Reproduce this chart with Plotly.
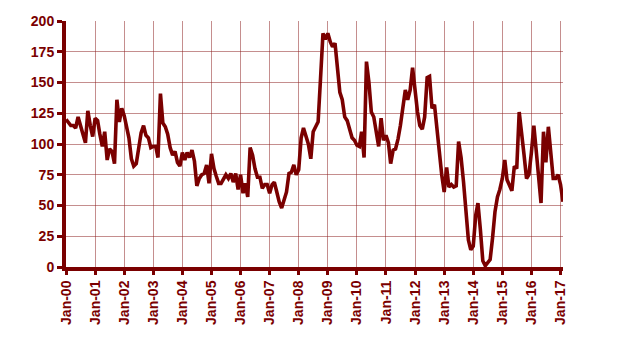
import plotly.graph_objects as go
import pandas as pd

start_month = "2000-01-01"
values = [
    120, 117, 115, 115, 113, 122, 116, 108, 101, 127, 115, 106,
    121, 119, 108, 98, 110, 87, 96, 94, 84, 136, 118, 129,
    123, 114, 105, 88, 82, 84, 98, 109, 115, 107, 105, 97,
    98, 98, 89, 141, 117, 114, 108, 97, 91, 94, 85, 82,
    93, 87, 93, 89, 95, 86, 66, 72, 75, 76, 83, 68,
    92, 80, 74, 68, 68, 71, 75, 72, 76, 69, 76, 63,
    75, 60, 68, 57, 97, 91, 80, 73, 73, 64, 67, 67,
    60, 67, 69, 61, 53, 48, 54, 61, 76, 77, 83, 75,
    79, 105, 113, 105, 100, 88, 110, 114, 118, 153, 190, 185,
    190, 183, 179, 182, 164, 142, 136, 122, 119, 111, 105, 103,
    99, 98, 110, 89, 167, 150, 126, 122, 111, 98, 121, 103,
    107, 101, 84, 95, 96, 104, 115, 130, 144, 136, 144, 162,
    142, 126, 115, 112, 122, 154, 155, 129, 132, 111, 91, 75,
    61, 81, 65, 67, 65, 66, 102, 89, 69, 48, 22, 14,
    17, 42, 52, 30, 5, 1, 3, 6, 24, 45, 57, 63,
    72, 87, 71, 66, 62, 82, 80, 126, 111, 91, 72, 75,
    93, 115, 95, 74, 52, 110, 85, 114, 95, 72, 72, 75,
    67, 53,
]
dates = pd.date_range(start_month, periods=len(values), freq="MS")
y_ticks = [0, 25, 50, 75, 100, 125, 150, 175, 200]

dark = "#7a0000"
grid = "rgba(140,30,30,0.5)"

fig = go.Figure()
fig.add_trace(go.Scatter(
    x=dates, y=values, mode="lines",
    line=dict(color=dark, width=3.6),
    hoverinfo="skip",
))

font = dict(family="Liberation Sans, Arial, sans-serif", size=14, color=dark)

fig.update_layout(
    width=620, height=358,
    margin=dict(l=66, r=57, t=21, b=91),
    paper_bgcolor="white", plot_bgcolor="white",
    showlegend=False,
    font=font,
    xaxis=dict(
        type="date",
        range=[dates[0], dates[-1]],
        dtick="M12", tick0=start_month,
        tickformat="<b>%b-%y</b>",
        tickangle=-90,
        showgrid=True, gridcolor=grid, gridwidth=1,
        showline=True, linecolor=dark, linewidth=4,
        ticks="outside", ticklen=4, tickwidth=3, tickcolor=dark,
        zeroline=False,
        tickfont=font,
    ),
    yaxis=dict(
        range=[0, 200],
        tickvals=y_ticks,
        ticktext=[f"<b>{v}</b>" for v in y_ticks],
        showgrid=True, gridcolor=grid, gridwidth=1,
        showline=True, linecolor=dark, linewidth=4,
        ticks="outside", ticklen=5, tickwidth=3, tickcolor=dark,
        zeroline=False,
        tickfont=font,
    ),
)

fig.write_html("out.html")
